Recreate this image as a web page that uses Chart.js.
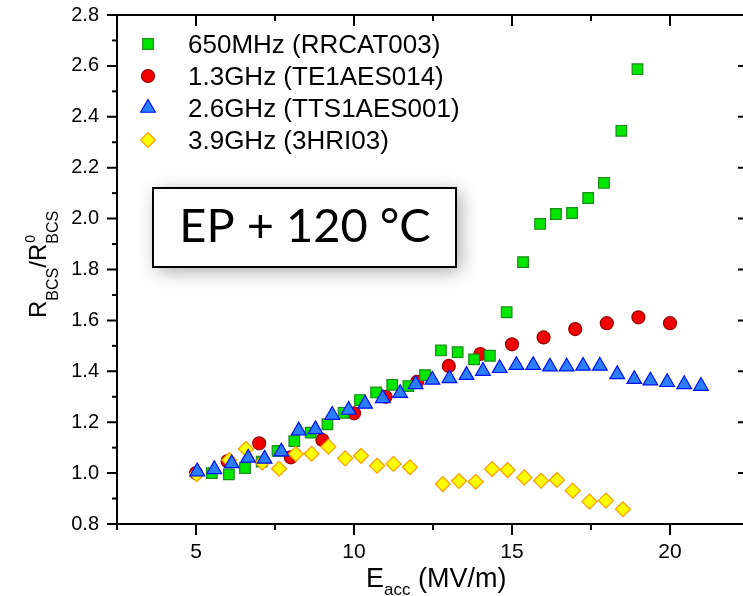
<!DOCTYPE html>
<html>
<head>
<meta charset="utf-8">
<script src="https://cdn.jsdelivr.net/npm/chart.js@4.4.1/dist/chart.umd.min.js"></script>
<style>
  html, body { margin: 0; padding: 0; background: #fff; overflow: hidden; }
  #wrap { position: relative; width: 760px; height: 596px; }
</style>
</head>
<body>
<div id="wrap"><canvas id="chart"></canvas></div>
<script>
// 650MHz (RRCAT003)
const greenX = [5.5, 6.04, 6.55, 7.08, 7.58, 8.11, 8.63, 9.16, 9.67, 10.19, 10.70, 11.21, 11.72, 12.25,
  12.75, 13.28, 13.80, 14.30, 14.83, 15.35, 15.89, 16.39, 16.90, 17.41, 17.91, 18.46, 18.97];
const greenY = [1.0, 0.995, 1.02, 1.045, 1.087, 1.126, 1.159, 1.192, 1.237, 1.287, 1.317, 1.347, 1.342, 1.385,
  1.482, 1.475, 1.447, 1.461, 1.632, 1.829, 1.979, 2.018, 2.022, 2.081, 2.14, 2.345, 2.587];

// 1.3GHz (TE1AES014)
const redX = [5, 6, 7, 8, 9, 10, 11, 12, 13, 14, 15, 16, 17, 18, 19, 20];
const redY = [1.0, 1.047, 1.117, 1.062, 1.13, 1.235, 1.30, 1.359, 1.421, 1.468, 1.506, 1.533, 1.566, 1.589, 1.612, 1.589];

// 2.6GHz (TTS1AES001)
const blueX = [5.04, 5.58, 6.13, 6.65, 7.17, 7.70, 8.25, 8.78, 9.31, 9.83, 10.35, 10.91, 11.46, 11.95, 12.48,
  13.02, 13.56, 14.08, 14.61, 15.14, 15.67, 16.20, 16.73, 17.25, 17.78, 18.33, 18.87, 19.38, 19.91, 20.45, 20.98];
const blueY = [1.006, 1.015, 1.038, 1.06, 1.056, 1.084, 1.167, 1.172, 1.228, 1.248, 1.272, 1.294, 1.314, 1.349, 1.366,
  1.372, 1.385, 1.401, 1.412, 1.424, 1.424, 1.418, 1.418, 1.421, 1.421, 1.388, 1.369, 1.363, 1.357, 1.349, 1.342];

// 3.9GHz (3HRI03)
const yellowX = [5.02, 6.05, 6.58, 7.10, 7.63, 8.16, 8.66, 9.19, 9.72, 10.22, 10.73, 11.25, 11.77, 12.81,
  13.32, 13.85, 14.37, 14.86, 15.39, 15.92, 16.42, 16.92, 17.45, 17.97, 18.51];
const yellowY = [0.996, 1.051, 1.095, 1.042, 1.017, 1.075, 1.076, 1.104, 1.058, 1.068, 1.029, 1.036, 1.023, 0.957,
  0.969, 0.966, 1.016, 1.012, 0.983, 0.970, 0.973, 0.931, 0.888, 0.892, 0.858];

const seriesNames = ["650MHz (RRCAT003)", "1.3GHz (TE1AES014)", "2.6GHz (TTS1AES001)", "3.9GHz (3HRI03)"];

const pts = (xs, ys) => xs.map((x, i) => ({ x, y: ys[i] }));

Chart.defaults.font.family = "'Liberation Sans', Arial, sans-serif";
Chart.defaults.color = "#000";

// draw one marker the same way for the legend
function marker(ctx, ds, x, y) {
  ctx.save();
  ctx.fillStyle = ds.backgroundColor;
  ctx.strokeStyle = ds.borderColor;
  ctx.lineWidth = ds.borderWidth;
  const r = ds.pointRadius;
  ctx.beginPath();
  if (ds.pointStyle === "rect") {
    const s = Math.SQRT1_2 * r;
    ctx.rect(x - s, y - s, 2 * s, 2 * s);
  } else if (ds.pointStyle === "circle") {
    ctx.arc(x, y, r, 0, Math.PI * 2);
  } else if (ds.pointStyle === "triangle") {
    for (let k = 0; k < 3; k++) {
      const a = k * 2 * Math.PI / 3;
      ctx.lineTo(x + Math.sin(a) * r, y - Math.cos(a) * r);
    }
    ctx.closePath();
  } else {
    ctx.moveTo(x - r, y); ctx.lineTo(x, y - r); ctx.lineTo(x + r, y); ctx.lineTo(x, y + r);
    ctx.closePath();
  }
  ctx.fill();
  ctx.stroke();
  ctx.restore();
}

const noPad = s => { s.paddingTop = 0; s.paddingBottom = 0; s.paddingLeft = 0; s.paddingRight = 0; };

const decor = {
  id: "decor",
  afterDraw(chart) {
    const { ctx, chartArea: a, scales: { x, y } } = chart;
    ctx.save();
    ctx.strokeStyle = "#000";
    ctx.lineWidth = 2;
    ctx.strokeRect(a.left, a.top, a.right - a.left, a.bottom - a.top);

    // x ticks: outward at bottom, inward at top
    x.ticks.forEach(t => {
      const px = x.getPixelForValue(t.value);
      const major = Math.abs(t.value % 5) < 1e-6;
      const len = major ? 11 : 6;
      ctx.beginPath();
      ctx.moveTo(px, a.bottom); ctx.lineTo(px, a.bottom + len);
      ctx.moveTo(px, a.top); ctx.lineTo(px, a.top + len);
      ctx.stroke();
    });
    // y ticks: outward on the left, inward (major only) on the right
    y.ticks.forEach((t, i) => {
      const py = y.getPixelForValue(t.value);
      const major = i % 2 === 0;
      ctx.beginPath();
      ctx.moveTo(a.left, py); ctx.lineTo(a.left - (major ? 10 : 5), py);
      if (major) { ctx.moveTo(a.right, py); ctx.lineTo(a.right - 11, py); }
      ctx.stroke();
    });

    // legend
    ctx.font = "26px 'Liberation Sans', Arial, sans-serif";
    ctx.fillStyle = "#000";
    ctx.textBaseline = "alphabetic";
    seriesNames.forEach((name, i) => {
      const ds = chart.data.datasets[i];
      const ly = 44 + i * 32;
      marker(ctx, ds, 148, ly);
      ctx.fillText(name, 188, ly + 9);
    });

    // label box
    ctx.save();
    ctx.shadowColor = "rgba(0,0,0,0.35)";
    ctx.shadowBlur = 18;
    ctx.shadowOffsetX = 4;
    ctx.shadowOffsetY = 4;
    ctx.fillStyle = "#fff";
    ctx.fillRect(153, 188, 303, 79);
    ctx.restore();
    ctx.strokeRect(153, 188, 303, 79);
    ctx.font = "47px Lato, 'Noto Sans', sans-serif";
    ctx.textAlign = "center";
    ctx.fillText("EP + 120 \u00B0C", 305, 242);

    // x title
    ctx.textAlign = "left";
    let tx = 366;
    ctx.font = "27px 'Liberation Sans', Arial, sans-serif";
    ctx.fillText("E", tx, 587);
    tx += ctx.measureText("E").width;
    ctx.font = "17px 'Liberation Sans', Arial, sans-serif";
    ctx.fillText("acc", tx, 595);
    tx += ctx.measureText("acc").width;
    ctx.font = "27px 'Liberation Sans', Arial, sans-serif";
    ctx.fillText(" (MV/m)", tx, 587);

    // y title
    ctx.save();
    ctx.translate(46, 318);
    ctx.rotate(-Math.PI / 2);
    let ux = 0;
    const big = "24px 'Liberation Sans', Arial, sans-serif";
    const small = "16px 'Liberation Sans', Arial, sans-serif";
    ctx.font = big; ctx.fillText("R", ux, 0); ux += ctx.measureText("R").width;
    ctx.font = small; ctx.fillText("BCS", ux, 12); ux += ctx.measureText("BCS").width;
    ctx.font = big; ctx.fillText("/R", ux, 0); ux += ctx.measureText("/R").width;
    ctx.font = "14px 'Liberation Sans', Arial, sans-serif"; ctx.fillText("0", ux + 1, -11);
    ctx.font = small; ctx.fillText("BCS", ux, 12);
    ctx.restore();

    ctx.restore();
  }
};

new Chart(document.getElementById("chart"), {
  type: "scatter",
  data: {
    datasets: [
      { label: seriesNames[0], data: pts(greenX, greenY), pointStyle: "rect", pointRadius: 7.5,
        backgroundColor: "#00e600", borderColor: "#1a8c1a", borderWidth: 1.2, order: 2 },
      { label: seriesNames[1], data: pts(redX, redY), pointStyle: "circle", pointRadius: 6.5,
        backgroundColor: "#f00000", borderColor: "#9a0000", borderWidth: 1.2, order: 3 },
      { label: seriesNames[2], data: pts(blueX, blueY), pointStyle: "triangle", pointRadius: 8.5,
        backgroundColor: "#2b7fff", borderColor: "#0010f0", borderWidth: 1.2, order: 0 },
      { label: seriesNames[3], data: pts(yellowX, yellowY), pointStyle: "rectRot", pointRadius: 7.5,
        backgroundColor: "#ffff00", borderColor: "#ff9a00", borderWidth: 1.2, order: 1 }
    ]
  },
  options: {
    responsive: true,
    maintainAspectRatio: false,
    animation: false,
    events: [],
    layout: { padding: { top: 15, right: 11, left: 0, bottom: 0 } },
    plugins: { legend: { display: false }, tooltip: { enabled: false } },
    scales: {
      x: {
        type: "linear", min: 2.5, max: 22.5,
        grid: { display: false }, border: { display: false },
        afterFit: s => { s.height = 72; noPad(s); },
        ticks: { stepSize: 2.5, autoSkip: false, maxRotation: 0, padding: 8, font: { size: 21 },
          callback: v => (Math.abs(v % 5) < 1e-6 ? String(v) : "") }
      },
      y: {
        type: "linear", min: 0.8, max: 2.8,
        grid: { display: false }, border: { display: false },
        afterFit: s => { s.width = 117; noPad(s); },
        ticks: { stepSize: 0.1, autoSkip: false, padding: 10, font: { size: 20 },
          callback: (v, i) => (i % 2 === 0 ? v.toFixed(1) : "") }
      }
    }
  },
  plugins: [decor]
});
</script>
</body>
</html>
